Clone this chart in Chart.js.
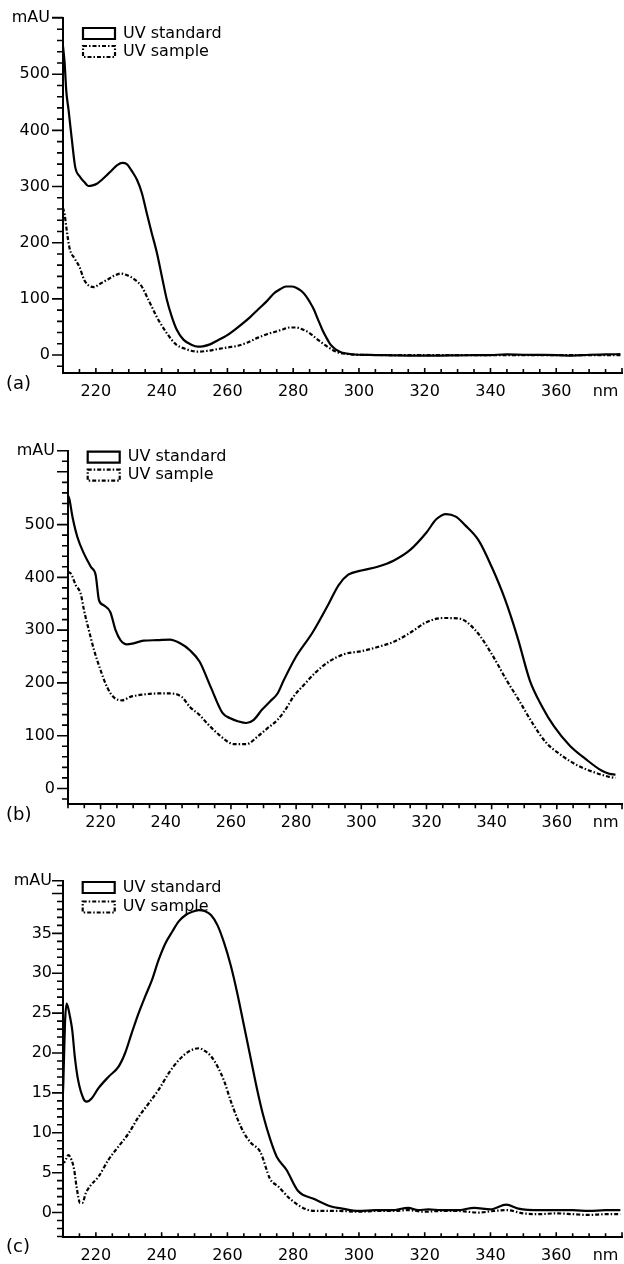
<!DOCTYPE html>
<html><head><meta charset="utf-8">
<script src="https://cdn.jsdelivr.net/npm/chart.js@4.4.1/dist/chart.umd.min.js"></script>
<style>
html,body{margin:0;padding:0;background:#fff;}
#page{position:relative;width:624px;height:1264px;overflow:hidden;background:#fff;}
canvas{position:absolute;left:0;}
.plabel{position:absolute;left:6px;font-family:"DejaVu Sans",sans-serif;font-size:18px;line-height:20px;color:#000;}
</style></head><body>
<div id="page">
<canvas id="ca" width="624" height="410" style="top:0px"></canvas>
<canvas id="cb" width="624" height="425" style="top:410px"></canvas>
<canvas id="cc" width="624" height="429" style="top:835px"></canvas>
<div class="plabel" style="top:373px">(a)</div>
<div class="plabel" style="top:804px">(b)</div>
<div class="plabel" style="top:1236px">(c)</div>
</div>
<script>
// ---------- data ----------
const SERIES_NAMES = ['UV standard', 'UV sample'];
const X_TICKS = [220, 240, 260, 280, 300, 320, 340, 360];
const X_UNIT = 'nm';
const X_UNIT_AT = 375;
const Y_UNIT = 'mAU';

const A_Y_TICKS = [0, 100, 200, 300, 400, 500];
const B_Y_TICKS = [0, 100, 200, 300, 400, 500];
const C_Y_TICKS = [0, 5, 10, 15, 20, 25, 30, 35];

// panel (a)
const A_STD_NM = [210,210.5,211,211.7,212.7,213.7,215.2,216.5,217.7,219,220.3,222,223.3,225,226.5,228,229.4,231,232.5,234,235.5,237,238.6,240.1,241.6,243.1,244.6,246.7,249.2,251,252.5,254.7,257,259.6,262,264.4,267,269.3,272,274.2,276,277.8,279.5,280.9,282.5,283.9,285,286.3,287.5,288.8,290,291.2,292.5,293.6,295,297.3,300,305,310,315,320,325,330,335,340,345,350,355,360,365,370,375,379.5];
const A_STD = [550,520,470,436,383,335,317,308,301,302,305,313,320,330,338,342,340,327,312,288,252,217,181,139,98,68,45,27,18,15,15.5,19,26,34,44,55,68,81,96,110,117,122,122,120,114,105,95,81,64,46,32,20,12,7.6,4,1.8,0.5,0,-0.5,-1,-1.2,-1,-0.5,-0.3,0,1,0.5,0.3,0,-1,0.5,1,1.5];
const A_SMP_NM = [210,210.5,211,212,213.5,215,216.5,218,219.5,221,223.3,225.5,227.5,229.5,232,234,235.5,237,238.5,240,241.6,243.1,244.6,246.7,249,251,254,257.1,260,263.2,266,269.3,272,275.4,277,279,281,282.7,284.5,286.3,288,290,292,293.6,295.5,297.3,300,310,320,330,340,350,360,370,379.5];
const A_SMP = [262,250,228,190,172,157,133,123,121,126,133.5,141,145,142,133.5,121.6,104,86,68,53,38.6,26.7,17.8,11.9,7.7,5.9,7.5,10.6,13.5,16.5,22,31,37,43,46,49,49,46,41,33,25,16.5,9,4.7,2.5,1.2,0.3,0,0,0,0,0,0,0,0];

// panel (b)
const B_STD_NM = [210,210.4,211.4,212.9,214.9,217,218.5,219.5,221,223,224.6,226.1,228.1,230.1,233.2,237.3,241.3,244.4,247.4,250.4,253.8,257.4,259.8,262.3,264.7,267,269.5,272,274.3,276.2,280,285,290,293,296,300,305,310,315,320,323,326,329,332,336,340,344,348,351.7,355.5,359.1,364,368.8,373.7,376.1,378];
const B_STD = [555,549,514,476,445,420,404,357,347,334,300,281,273,275,280,281,282,275,262,240,192,143,133,127,124,130,149,165,180,205,250,295,350,385,405,413,420,432,452,485,510,520,515,498,470,420,360,285,205,155,118,81,56,34,28,26];
const B_SMP_NM = [210,210.9,212.4,213.9,214.9,216.4,218,220,222,224,226.6,229.1,233.2,237.3,241.3,244.9,247.4,250.4,252.6,256.2,261,264.7,268.3,271,274.3,277,279.2,282.8,286,290,295,300,305,310,315,320,325,330,335,340,344.6,348.3,352.5,356.7,361.6,366.4,371.3,376.1,378];
const B_SMP = [410,407,385,369,338,300,262,224,192,173,167,173.5,178,180,180,173.5,154.5,139,124,102.5,84,84,99,113,130,152,174,199,220,240,255,260,268,278,295,315,323,322,300,255,205,168,124,87,62,43.5,31,22,20];

// panel (c)
const C_STD_NM = [209.6,210.1,210.6,211.1,212.1,212.8,213.6,214.6,216.2,217.2,218.7,220.8,223.8,226.9,228.9,230.9,233,235,237.1,239.1,241.2,243.2,245.2,247.3,249.3,251.3,253,255,257,259,261,263,265,267,269,271,273,275,277.9,281.5,286.4,291.3,294.9,299.8,305,310,315,318,321.1,325,330,335.1,340,344.8,348.5,355,360,365,370,375,379.5];
const C_STD = [11,16.2,23.7,26.2,24.6,22.9,19.5,16.6,14.3,13.9,14.3,15.6,17.0,18.3,20.0,22.5,25,27.1,29.2,31.7,33.8,35.2,36.5,37.3,37.7,37.9,37.8,37.3,36,33.8,31,27.5,23.5,19.5,15.5,12,9.2,7,5.4,2.7,1.7,0.8,0.5,0.2,0.3,0.3,0.6,0.3,0.4,0.3,0.3,0.6,0.4,1.0,0.5,0.3,0.3,0.3,0.2,0.3,0.3];
const C_SMP_NM = [209.6,210.6,211.6,212.6,213.4,214.1,215.2,215.9,216.9,218.2,220.8,223.8,226.9,229.9,233,236.1,239.1,242.2,245.2,248.3,251.3,253,255,257,259,261,263,265,267,270,273,275.4,279.1,284,287.6,293.7,300,305,310,315,320,325,330,336.3,341,345,350,355,360,365,370,375,379.5];
const C_SMP = [6.2,6.4,7.2,6.6,5.35,3.3,1.2,1.2,2.4,3.3,4.5,6.6,8.3,9.9,12.0,13.7,15.4,17.5,19.1,20.2,20.6,20.3,19.6,18.3,16.5,14,11.8,10,8.8,7.6,4.2,3.3,1.7,0.4,0.2,0.2,0.1,0.2,0.2,0.3,0.1,0.2,0.2,0.0,0.2,0.3,-0.1,-0.2,-0.1,-0.2,-0.3,-0.2,-0.2];

// ---------- rendering ----------
const FONT = {family: '"DejaVu Sans", sans-serif', size: 16};
Chart.defaults.font.family = FONT.family;
Chart.defaults.font.size = FONT.size;
Chart.defaults.color = '#000';

function pts(xs, ys) { return xs.map((x, i) => ({x: x, y: ys[i]})); }

const tickMarks = {
  id: 'tickMarks',
  afterDraw(chart, args, o) {
    const ctx = chart.ctx, ca = chart.chartArea;
    const xs = chart.scales.x, ys = chart.scales.y;
    ctx.save();
    ctx.strokeStyle = '#000';
    ctx.lineWidth = 1.6;
    ctx.beginPath();
    const k0 = Math.ceil(ys.min / o.yMinor - 1e-9), k1 = Math.floor(ys.max / o.yMinor + 1e-9);
    for (let k = k0; k <= k1; k++) {
      const v = k * o.yMinor, r = v / o.yMajor;
      const major = Math.abs(r - Math.round(r)) < 1e-6;
      const y = ys.getPixelForValue(v);
      ctx.moveTo(ca.left, y); ctx.lineTo(ca.left - (major ? o.yMajorLen : o.yMinorLen), y);
    }
    const yt = ys.getPixelForValue(ys.max);
    ctx.moveTo(ca.left, yt); ctx.lineTo(ca.left - o.yMajorLen, yt);
    const j0 = Math.ceil(xs.min / o.xMinor), j1 = Math.floor(xs.max / o.xMinor);
    for (let j = j0; j <= j1; j++) {
      const v = j * o.xMinor;
      const major = (v % o.xMajor) === 0;
      const x = xs.getPixelForValue(v);
      const len = (major ? o.xMajorLen : o.xMinorLen) * o.xDir;
      ctx.moveTo(x, ca.bottom); ctx.lineTo(x, ca.bottom + len);
    }
    ctx.stroke();
    ctx.restore();
  }
};

const legendPlace = {
  id: 'legendPlace',
  afterLayout(chart, args, o) {
    const lg = chart.legend;
    if (!lg) return;
    const w = lg.width, h = lg.height;
    lg.left = o.x; lg.top = o.y; lg.right = o.x + w; lg.bottom = o.y + h;
  }
};

function makeChart(id, p) {
  const W = 624;
  const canvas = document.getElementById(id);
  const H = canvas.height;
  new Chart(canvas, {
    type: 'line',
    data: {
      datasets: [
        {label: SERIES_NAMES[0], data: pts(p.stdNm, p.std), borderColor: '#000', backgroundColor: '#fff',
         borderWidth: 2.2, pointRadius: 0, fill: false, cubicInterpolationMode: 'monotone'},
        {label: SERIES_NAMES[1], data: pts(p.smpNm, p.smp), borderColor: '#000', backgroundColor: '#fff',
         borderWidth: 2.2, borderDash: [4, 2, 1.5, 2], pointRadius: 0, fill: false, cubicInterpolationMode: 'monotone'}
      ]
    },
    plugins: [tickMarks, legendPlace],
    options: {
      responsive: false,
      animation: false,
      events: [],
      layout: {autoPadding: false, padding: {left: 0, top: p.top, right: W - p.right, bottom: 0}},
      scales: {
        x: {
          type: 'linear', min: 210, max: 380,
          grid: {display: false, drawTicks: false},
          border: {display: true, color: '#000', width: 2},
          ticks: {autoSkip: false, maxRotation: 0, padding: 9, color: '#000', font: FONT,
                  callback: (v) => v === X_UNIT_AT ? X_UNIT : String(v)},
          afterBuildTicks: (s) => { s.ticks = X_TICKS.map(v => ({value: v})).concat([{value: X_UNIT_AT}]); },
          afterFit: (s) => { s.height = H - p.bottom; s.paddingLeft = 0; s.paddingRight = 0; }
        },
        y: {
          type: 'linear', min: p.ymin, max: p.ymax,
          grid: {display: false, drawTicks: false},
          border: {display: true, color: '#000', width: 2},
          ticks: {autoSkip: false, padding: p.ypad, color: '#000', font: FONT,
                  callback: (v) => v === p.ymax ? Y_UNIT : String(v)},
          afterBuildTicks: (s) => { s.ticks = p.yTicks.map(v => ({value: v})).concat([{value: p.ymax}]); },
          afterFit: (s) => { s.width = p.left; s.paddingTop = 0; s.paddingBottom = 0; }
        }
      },
      plugins: {
        legend: {
          position: 'chartArea', align: 'start',
          labels: {boxWidth: 32, boxHeight: 11, padding: p.lpad, color: '#000', font: FONT}
        },
        tooltip: {enabled: false},
        tickMarks: {yMinor: p.yMinor, yMajor: p.yMajor, yMajorLen: 11, yMinorLen: 6,
                    xMinor: 5, xMajor: 20, xMajorLen: 5, xMinorLen: 4, xDir: p.xDir},
        legendPlace: {x: p.legX - p.lpad, y: p.legY - p.lpad - 2.5}
      }
    }
  });
}

makeChart('ca', {stdNm: A_STD_NM, std: A_STD, smpNm: A_SMP_NM, smp: A_SMP,
  ymin: -32, ymax: 601, yTicks: A_Y_TICKS, yMinor: 20, yMajor: 100, ypad: 13,
  left: 63, right: 622, top: 17.5, bottom: 373, xDir: -1, lpad: 2, legX: 83, legY: 28});
makeChart('cb', {stdNm: B_STD_NM, std: B_STD, smpNm: B_SMP_NM, smp: B_SMP,
  ymin: -30, ymax: 640, yTicks: B_Y_TICKS, yMinor: 20, yMajor: 100, ypad: 13,
  left: 68, right: 622, top: 40.7, bottom: 394.3, xDir: 1, lpad: 2, legX: 87.7, legY: 41.7});
makeChart('cc', {stdNm: C_STD_NM, std: C_STD, smpNm: C_SMP_NM, smp: C_SMP,
  ymin: -3.1, ymax: 41.6, yTicks: C_Y_TICKS, yMinor: 1, yMajor: 5, ypad: 11,
  left: 63, right: 622, top: 45.7, bottom: 402.3, xDir: -1, lpad: 3.5, legX: 82.7, legY: 47});
</script>
</body></html>
